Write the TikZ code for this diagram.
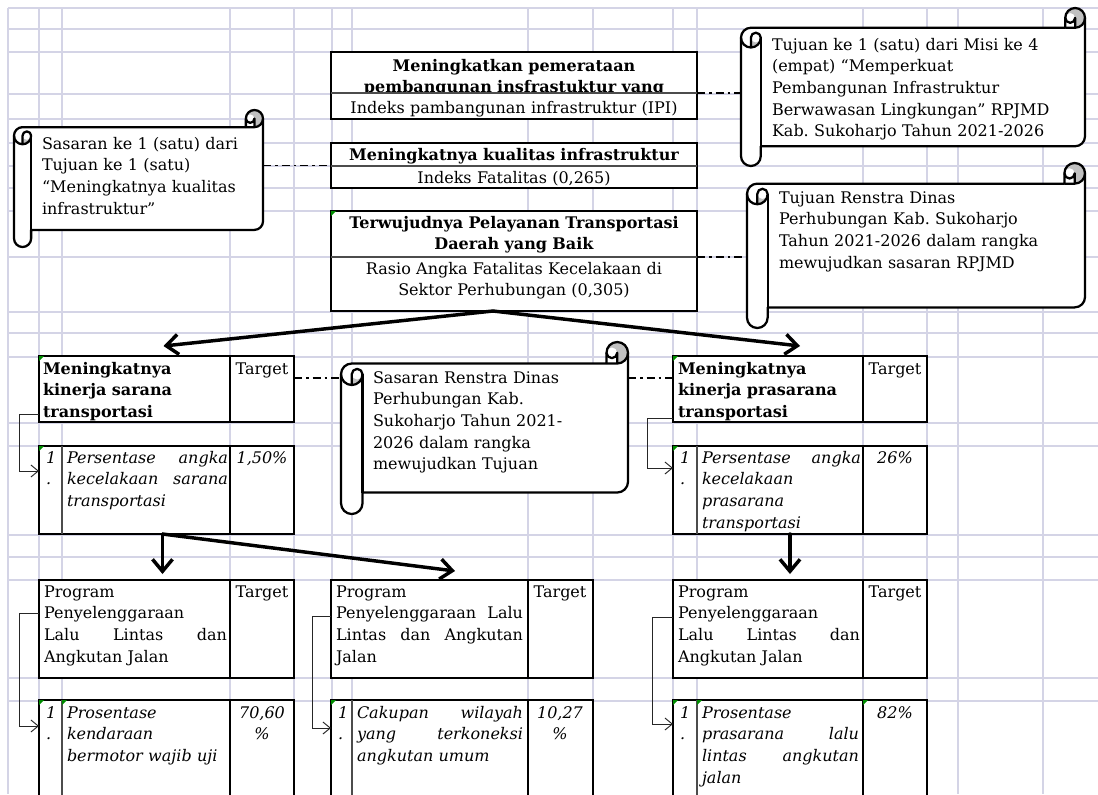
\documentclass[tikz,border=0pt]{standalone}
\usepackage{fontspec}
\setmainfont{DejaVu Serif}
\usetikzlibrary{arrows.meta,calc,fit}
\definecolor{gridc}{RGB}{212,212,230}
\definecolor{curlc}{RGB}{192,192,192}
\definecolor{xlgreen}{RGB}{0,140,0}

\newcommand{\scrollshape}[5]{%
  \pgfmathsetmacro{\scC}{0.125*min(#4-#2,#5-#3)}%
  \pgfmathsetmacro{\scH}{\scC/2}\pgfmathsetmacro{\scQ}{\scC/4}%
  \pgfmathsetmacro{\scYc}{#3+\scC}\pgfmathsetmacro{\scYh}{#3+\scH}%
  \pgfmathsetmacro{\scYthree}{#3+1.5*\scC}\pgfmathsetmacro{\scYfour}{#3+2*\scC}%
  \pgfmathsetmacro{\scYsix}{#5-\scC}\pgfmathsetmacro{\scYseven}{#5-\scH}%
  \pgfmathsetmacro{\scYfive}{#5-1.5*\scC}%
  \pgfmathsetmacro{\scXthree}{#4-\scC}\pgfmathsetmacro{\scXfour}{#4-\scH}%
  \pgfmathsetmacro{\scXh}{#2+\scH}\pgfmathsetmacro{\scXc}{#2+\scC}%
  \fill[white] (#2,\scYthree) arc[start angle=180,delta angle=90,radius=\scH] -- (\scXthree,\scYc) -- (\scXthree,\scYh) arc[start angle=180,delta angle=180,radius=\scH] -- (#4,\scYfive) arc[start angle=0,delta angle=90,radius=\scH] -- (\scXc,\scYsix) -- (\scXc,\scYseven) arc[start angle=0,delta angle=180,radius=\scH] -- cycle;
  \fill[curlc] (\scXh,\scYfour) arc[start angle=90,delta angle=-90,radius=\scH] arc[start angle=0,delta angle=180,radius=\scQ] -- cycle;
  \fill[curlc] (\scXfour,\scYc) arc[start angle=90,delta angle=-270,radius=\scH] arc[start angle=180,delta angle=180,radius=\scQ] -- cycle;
  \draw[scrollline] (#2,\scYthree) arc[start angle=180,delta angle=90,radius=\scH] -- (\scXthree,\scYc) -- (\scXthree,\scYh) arc[start angle=180,delta angle=180,radius=\scH] -- (#4,\scYfive) arc[start angle=0,delta angle=90,radius=\scH] -- (\scXc,\scYsix) -- (\scXc,\scYseven) arc[start angle=0,delta angle=180,radius=\scH] -- cycle;
  \draw[scrollline] (\scXthree,\scYc) -- (\scXfour,\scYc) arc[start angle=90,delta angle=-90,radius=\scH];
  \draw[scrollline] (\scXfour,\scYc) -- (\scXfour,\scYh) arc[start angle=0,delta angle=180,radius=\scQ];
  \draw[scrollline] (\scXh,\scYfour) -- (\scXh,\scYthree) arc[start angle=180,delta angle=180,radius=\scQ] arc[start angle=0,delta angle=180,radius=\scH];
  \draw[scrollline] (\scXc,\scYthree) -- (\scXc,\scYsix);
  \node[subfit, fit={(#2,#3)(#4,#5)}] (#1) {};
}
\newcommand{\stackbox}[6]{%
  \node[boxfit, fit={(#2,#4)(#3,#6)}] (#1) {};
  \node[subfit, fit={(#2,#4)(#3,#5)}] (#1t) {};
  \node[subfit, fit={(#2,#5)(#3,#6)}] (#1i) {};
}
\newcommand{\twobox}[6]{%
  \node[boxfit, fit={(#2,#5)(#4,#6)}] (#1) {};
  \node[subfit, fit={(#2,#5)(#3,#6)}] (#1a) {};
  \node[subfit, fit={(#3,#5)(#4,#6)}] (#1b) {};
  \draw[colline] (#1a.north east) -- (#1a.south east);
}
\newcommand{\threebox}[7]{%
  \node[boxfit, fit={(#2,#6)(#5,#7)}] (#1) {};
  \node[subfit, fit={(#2,#6)(#3,#7)}] (#1a) {};
  \node[subfit, fit={(#3,#6)(#4,#7)}] (#1b) {};
  \node[subfit, fit={(#4,#6)(#5,#7)}] (#1c) {};
  \draw[thinline] (#1a.north east) -- (#1a.south east);
  \draw[colline] (#1b.north east) -- (#1b.south east);
}
\newcommand{\gmark}[1]{\fill[xlgreen] (#1) -- ++(5,0) -- ++(-5,5) -- cycle;}
\newcommand{\J}[1]{\makebox[\linewidth][s]{\spaceskip=.33em plus 1fil\relax #1}}
\newcommand{\fsz}{\fontsize{12}{16.3}\selectfont\frenchspacing}

\begin{document}
\begin{tikzpicture}[x=0.75pt,y=-0.75pt,
  gridline/.style={draw=gridc, line width=0.8pt},
  boxfit/.style={inner sep=0pt, outer sep=0pt, draw=black, line width=1.6pt, fill=white},
  subfit/.style={inner sep=0pt, outer sep=0pt},
  colline/.style={draw=black, line width=1.4pt},
  thinline/.style={draw=black!70, line width=1pt},
  sepline/.style={draw=black!70, line width=1pt},
  scrollline/.style={draw=black, line width=1.7pt, line join=round},
  tx/.style={inner sep=0pt, outer sep=0pt, anchor=base west, align=left, font=\fsz},
  tw/.style={text width=#1*0.75pt},
  tc/.style={tx, anchor=base, align=center},
  bf/.style={font=\fsz\bfseries},
  it/.style={font=\fsz\itshape},
  ddot/.style={draw=black, line width=1.2pt, dash pattern=on 6pt off 3pt on 2pt off 3pt},
  bigarrow/.style={draw=black, line width=2.6pt, line cap=round, -{Straight Barb[length=9pt,width=15pt]}},
  brk/.style={draw=black!85, line width=0.7pt, -{Straight Barb[length=5.5pt,width=9pt]}}]
\useasboundingbox (0,0) rectangle (1098,794);
\clip (0,0) rectangle (1098,794);
\fill[white] (0,0) rectangle (1098,794);

% spreadsheet grid
\foreach \gx in {8,39,62,230,294,332,352,528,593,673,697,863,927,958,1043}
  \draw[gridline] (\gx,8) -- (\gx,794);
\foreach \gy in {8,29,52,94,119,143,166,188,211,257,312,333,357,423,446,535,557,580,678,701}
  \draw[gridline] (8,\gy) -- (1098,\gy);

% ---- top goal boxes
\stackbox{A}{331}{697}{52}{93}{119}
\begin{scope}
\clip (At.north west) rectangle (At.south east);
\node[tc, tw=366, bf] (Atx) at (514,71) {Meningkatkan pemerataan\\pembangunan insfrastuktur yang};
\end{scope}
\draw[sepline] (At.south west) -- (At.south east);
\node[tc, tw=366] (Aix) at (514,113) {Indeks pambangunan infrastruktur (IPI)};

\stackbox{B}{331}{697}{143}{166}{188}
\draw[sepline] (Bt.south west) -- (Bt.south east);
\node[tc, tw=366, bf] (Btx) at (514,160) {Meningkatnya kualitas infrastruktur};
\node[tc, tw=366] (Bix) at (514,183) {Indeks Fatalitas (0,265)};

\stackbox{C}{331}{697}{211}{257}{311}
\draw[sepline] (Ct.south west) -- (Ct.south east);
\node[tc, tw=366, bf] (Ctx) at (514,228) {Terwujudnya Pelayanan Transportasi\\Daerah yang Baik};
\node[tc, tw=366] (Cix) at (514,274) {Rasio Angka Fatalitas Kecelakaan di\\Sektor Perhubungan (0,305)};
\gmark{C.north west}

% ---- scrolls
\scrollshape{s1}{14}{110}{263}{247}
\node[tx, tw=215] (s1x) at (42,149) {Sasaran ke 1 (satu) dari\\Tujuan ke 1 (satu)\\“Meningkatnya kualitas\\infrastruktur”};
\scrollshape{s2}{741}{8}{1085}{166}
\node[tx, tw=300] (s2x) at (772,50) {Tujuan ke 1 (satu) dari Misi ke 4\\(empat) “Memperkuat\\Pembangunan Infrastruktur\\Berwawasan Lingkungan” RPJMD\\Kab. Sukoharjo Tahun 2021-2026};
\scrollshape{s3}{747}{163}{1085}{328}
\node[tx, tw=290] (s3x) at (779,203) {Tujuan Renstra Dinas\\Perhubungan Kab. Sukoharjo\\Tahun 2021-2026 dalam rangka\\mewujudkan sasaran RPJMD};
\scrollshape{s4}{341}{342}{628}{514}
\node[tx, tw=240] (s4x) at (373,383) {Sasaran Renstra Dinas\\Perhubungan Kab.\\Sukoharjo Tahun 2021-\\2026 dalam rangka\\mewujudkan Tujuan};

% ---- sasaran level
\twobox{D}{39}{230}{294}{356}{422}
\node[tx, tw=185, bf] (Dx) at (43,374) {Meningkatnya\\kinerja sarana\\transportasi};
\node[tc, tw=64] (Dtg) at (262,374) {Target};
\gmark{D.north west}
\threebox{Dd}{39}{62}{230}{294}{446}{534}
\node[tx, tw=16, it] (Ddn) at (46,463) {1\\.};
\node[tx, tw=161, it] (Ddx) at (67,463) {\J{Persentase angka}\\\J{kecelakaan sarana}\\transportasi};
\node[tc, tw=64, it] (Ddv) at (262,463) {1,50\%};
\gmark{Dd.north west}

\twobox{E}{673}{863}{927}{356}{422}
\node[tx, tw=185, bf] (Ex) at (678,374) {Meningkatnya\\kinerja prasarana\\transportasi};
\node[tc, tw=64] (Etg) at (895,374) {Target};
\gmark{E.north west}
\threebox{Ed}{673}{697}{863}{927}{446}{534}
\node[tx, tw=16, it] (Edn) at (680,463) {1\\.};
\node[tx, tw=159, it] (Edx) at (702,463) {\J{Persentase angka}\\kecelakaan\\prasarana\\transportasi};
\node[tc, tw=64, it] (Edv) at (895,463) {26\%};
\gmark{Ed.north west}

% ---- program level
\twobox{F}{39}{230}{294}{580}{678}
\node[tx, tw=183] (Fx) at (44,597) {Program\\Penyelenggaraan\\\J{Lalu Lintas dan}\\Angkutan Jalan};
\node[tc, tw=64] (Ftg) at (262,597) {Target};
\threebox{Fd}{39}{62}{230}{294}{700}{820}
\node[tx, tw=16, it] (Fdn) at (46,718) {1\\.};
\node[tx, tw=161, it] (Fdx) at (67,718) {Prosentase\\kendaraan\\bermotor wajib uji};
\node[tc, tw=64, it] (Fdv) at (262,718) {70,60\\\%};
\gmark{Fda.north west}\gmark{Fdb.north west}

\twobox{G}{331}{528}{593}{580}{678}
\node[tx, tw=187] (Gx) at (336,597) {Program\\\J{Penyelenggaraan Lalu}\\\J{Lintas dan Angkutan}\\Jalan};
\node[tc, tw=64] (Gtg) at (560,597) {Target};
\threebox{Gd}{331}{352}{528}{593}{700}{820}
\node[tx, tw=16, it] (Gdn) at (338,718) {1\\.};
\node[tx, tw=166, it] (Gdx) at (357,718) {\J{Cakupan wilayah}\\\J{yang terkoneksi}\\angkutan umum};
\node[tc, tw=64, it] (Gdv) at (560,718) {10,27\\\%};
\gmark{Gda.north west}

\twobox{H}{673}{863}{927}{580}{678}
\node[tx, tw=182] (Hx) at (678,597) {Program\\Penyelenggaraan\\\J{Lalu Lintas dan}\\Angkutan Jalan};
\node[tc, tw=64] (Htg) at (895,597) {Target};
\threebox{Hd}{673}{697}{863}{927}{700}{820}
\node[tx, tw=16, it] (Hdn) at (680,718) {1\\.};
\node[tx, tw=157, it] (Hdx) at (702,718) {Prosentase\\\J{prasarana lalu}\\\J{lintas angkutan}\\jalan};
\node[tc, tw=64, it] (Hdv) at (895,718) {82\%};
\gmark{Hda.north west}\gmark{Hdb.north west}\gmark{Hdc.north west}

% ---- dash-dot links to the scrolls
\draw[ddot] (At.south east) -- (At.south east -| s2.west);
\draw[ddot] (s1.east |- B.west) -- (B.west);
\draw[ddot] (Ct.south east) -- (Ct.south east -| s3.west);
\coordinate (s4in) at ($(s4.north west)+(0,36)$);
\coordinate (s4out) at ($(s4.north east)+(0,36)$);
\draw[ddot] (D.east |- s4in) -- (s4in);
\draw[ddot] (s4out) -- (s4out -| E.west);

% ---- brackets
\draw[brk] ($(D.south west)+(0,-8)$) -- ++(-20,0) |- ($(Dd.north west)+(0,25)$);
\draw[brk] ($(E.south west)+(0,-4)$) -- ++(-26,0) |- ($(Ed.north west)+(0,22)$);
\draw[brk] ($(F.north west)+(0,33)$) -- ++(-20,0) |- ($(Fd.north west)+(0,26)$);
\draw[brk] ($(G.north west)+(0,36)$) -- ++(-19,0) |- ($(Gd.north west)+(0,28)$);
\draw[brk] ($(H.north west)+(0,37)$) -- ++(-21,0) |- ($(Hd.north west)+(0,24)$);

% ---- thick arrows
\coordinate (Cfork) at ($(C.south west)+(162,0)$);
\draw[bigarrow] (Cfork) -- ($(D.north)+(-3,-10)$);
\draw[bigarrow] (Cfork) -- ($(E.north)+(0,-10)$);
\coordinate (Dfork) at ($(Dd.south)+(-4,0)$);
\draw[bigarrow] (Dfork) -- ($(F.north)+(-4,-6)$);
\draw[bigarrow] (Dfork) -- ($(G.north)+(-7,-9)$);
\draw[bigarrow] ($(Ed.south)+(-10,0)$) -- ($(H.north)+(-10,-6)$);
\end{tikzpicture}
\end{document}
